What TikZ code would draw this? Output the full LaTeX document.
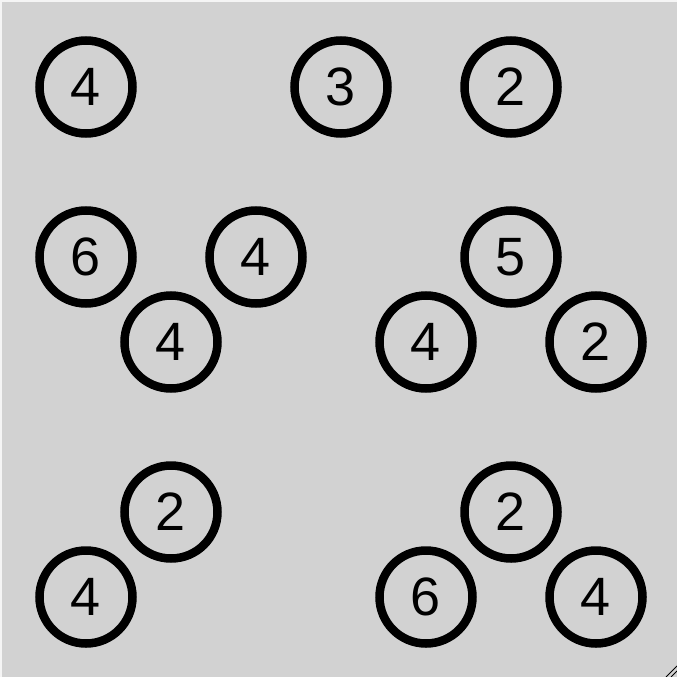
\documentclass[tikz,border=0pt]{standalone}
\usepackage{fontspec}
\setmainfont{Liberation Sans}
\begin{document}
\begin{tikzpicture}[x=1pt,y=-1pt,
  num/.style={circle,draw=black,line width=8.5pt,minimum size=93pt,inner sep=0pt,font=\fontsize{54}{54}\selectfont}]
\useasboundingbox (0,0) rectangle (677,677);
\fill[white!92!gray] (0,0) rectangle (677,677);
\fill[gray!35] (2,2) rectangle (677,677);
\node[num] (a1) at (86,87) {4};
\node[num] (a2) at (341,87) {3};
\node[num] (a3) at (511,87) {2};
\node[num] (b1) at (86,257) {6};
\node[num] (b2) at (256,257) {4};
\node[num] (b3) at (171,342) {4};
\node[num] (c1) at (511,257) {5};
\node[num] (c2) at (426,342) {4};
\node[num] (c3) at (596,342) {2};
\node[num] (d1) at (171,512) {2};
\node[num] (d2) at (86,597) {4};
\node[num] (e1) at (511,512) {2};
\node[num] (e2) at (426,597) {6};
\node[num] (e3) at (596,597) {4};
\coordinate (g1a) at (666,677); \coordinate (g1b) at (677,666);
\coordinate (g2a) at (671,677); \coordinate (g2b) at (677,671);
\draw[line width=1pt] (g1a) -- (g1b);
\draw[line width=1pt] (g2a) -- (g2b);
\end{tikzpicture}
\end{document}
